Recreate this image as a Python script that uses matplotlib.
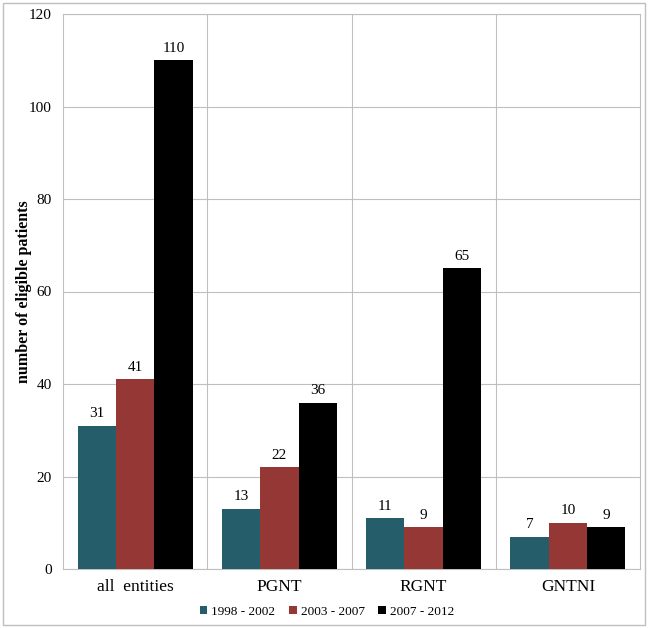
import numpy as np
import matplotlib
matplotlib.use('Agg')
from matplotlib import pyplot as plt
from matplotlib.patches import Rectangle

categories = ['all  entities', 'PGNT', 'RGNT', 'GNTNI']
series = ['1998 - 2002', '2003 - 2007', '2007 - 2012']
vals_1998 = [31, 13, 11, 7]
vals_2003 = [41, 22, 9, 10]
vals_2007 = [110, 36, 65, 9]
colors = ['#255d6b', '#953735', '#000000']

plt.rcParams['font.family'] = ['Liberation Serif', 'DejaVu Serif']

fig = plt.figure(figsize=(6.48, 6.28), dpi=100)
ax = fig.add_axes([63/648, 1-569/628, (640-63)/648, (569-14)/628])

x = np.arange(len(categories))
w = 0.266
for i, (vals, lab, c) in enumerate(zip([vals_1998, vals_2003, vals_2007], series, colors)):
    pos = x + (i - 1) * w
    ax.bar(pos, vals, width=w, color=c, label=lab, zorder=3)
    for p, v in zip(pos, vals):
        ax.text(p, v + 1.2, str(v), ha='center', va='bottom', fontsize=11, zorder=4)

ax.set_xlim(-0.5, len(categories) - 0.5)
ax.set_ylim(0, 120)
ax.set_yticks(range(0, 121, 20))
ax.set_xticks(x)
ax.set_xticklabels(categories, fontsize=12.5)
ax.tick_params(axis='y', labelsize=11, length=0, pad=8)
ax.tick_params(axis='x', length=0, pad=7)

ax.yaxis.grid(True, color='#bfbfbf', lw=0.8, zorder=0)
for b in [0.5, 1.5, 2.5]:
    ax.axvline(b, color='#bfbfbf', lw=0.8, zorder=0)
for s in ax.spines.values():
    s.set_color('#bfbfbf')
    s.set_linewidth(0.8)

ax.set_ylabel('number of eligible patients', fontsize=11.5, fontweight='bold', va='center')
ax.yaxis.set_label_coords(-0.068, 0.5)

ax.legend(loc='upper center', bbox_to_anchor=(0.457, -0.045), ncol=3, frameon=False,
          fontsize=9.5, handlelength=0.6, handleheight=0.6, handletextpad=0.3,
          columnspacing=1.0)

fig.patches.append(Rectangle((3/648, 3/628), 642/648, 622/628, transform=fig.transFigure,
                             fill=False, edgecolor='#bfbfbf', lw=1))

fig.savefig('out.png', dpi=100)
